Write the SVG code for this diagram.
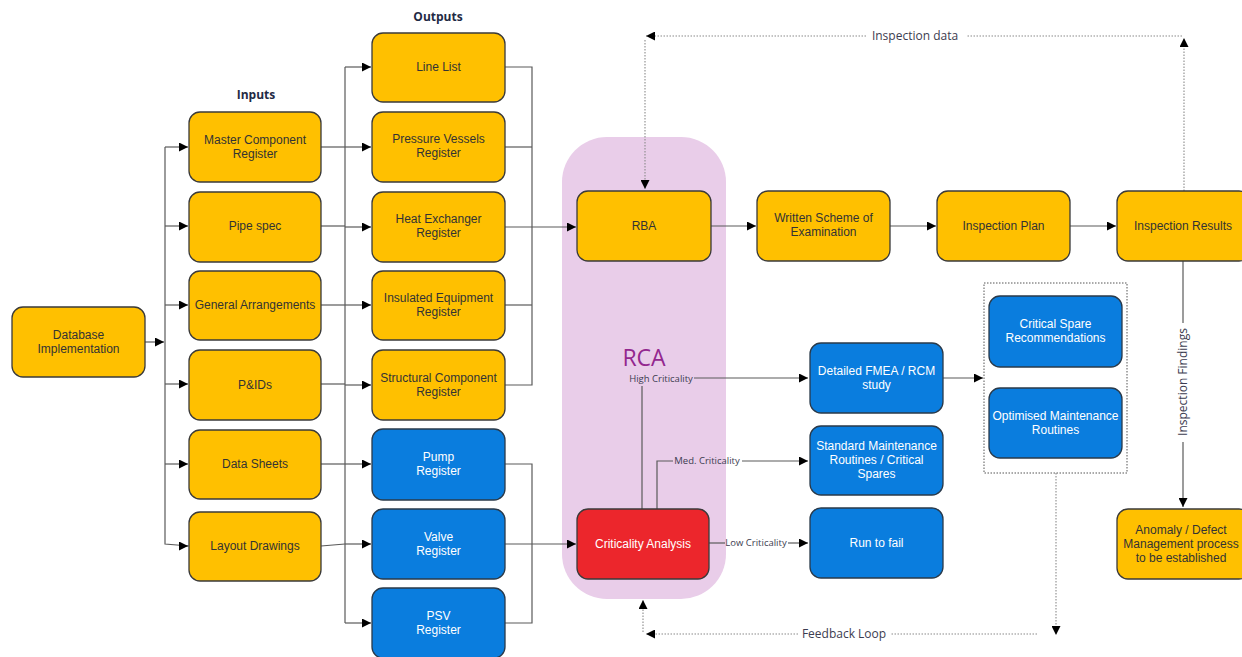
<svg xmlns="http://www.w3.org/2000/svg" width="1242" height="657" viewBox="0 0 1242 657">
<style>
.y{fill:#FFC000;stroke:#3a3a3a;stroke-width:1.3}
.b{fill:#0a7dde;stroke:#2a3a4a;stroke-width:1.3}
.r{fill:#ec262c;stroke:#3a3a3a;stroke-width:1.3}
.t{font-family:"Liberation Sans",Arial,sans-serif;font-size:12px;text-anchor:middle;fill:#333}
.tw{font-family:"Liberation Sans",Arial,sans-serif;font-size:12px;text-anchor:middle;fill:#ffffff}
.h{font-family:"Open Sans",sans-serif;font-size:12px;font-weight:bold;text-anchor:middle;fill:#1f2a44}
.lbl{font-family:"Open Sans",sans-serif;font-size:12px;text-anchor:middle;fill:#3c3c50}
.sl{font-family:"Open Sans",sans-serif;font-size:9.5px;text-anchor:middle;fill:#3c3c50}
.c{fill:none;stroke:#5a5a5a;stroke-width:1.2}
.d{fill:none;stroke:#8a8a8a;stroke-width:1.1;stroke-dasharray:1.5 1.5}
</style>
<defs>
<marker id="a" viewBox="0 0 10 10" refX="10" refY="5" markerUnits="userSpaceOnUse" markerWidth="9" markerHeight="9" orient="auto">
<path d="M0,0 L10,5 L0,10 z" fill="#000"/>
</marker>
</defs>

<rect id="rca-zone" x="562" y="137" width="164" height="462" rx="45" fill="#e9cde9"/>
<text x="644" y="366" font-family="Open Sans,sans-serif" font-size="23" fill="#93278f" text-anchor="middle">RCA</text>

<text class="h" x="256" y="99">Inputs</text>
<text class="h" x="438" y="21">Outputs</text>

<g id="connectors">
  <path class="c" d="M145,342 H164" marker-end="url(#a)"/>
  <path class="c" d="M165,147 V544 L189,546"/>
  <path class="c" d="M165,147 H188" marker-end="url(#a)"/>
  <path class="c" d="M165,226 H188" marker-end="url(#a)"/>
  <path class="c" d="M165,305 H188" marker-end="url(#a)"/>
  <path class="c" d="M165,384 H188" marker-end="url(#a)"/>
  <path class="c" d="M165,464 H188" marker-end="url(#a)"/>
  <path class="c" d="M182,546 H188" marker-end="url(#a)"/>
  <path class="c" d="M321,147 H345"/>
  <path class="c" d="M321,226 H345"/>
  <path class="c" d="M321,305 H345"/>
  <path class="c" d="M321,384 H345"/>
  <path class="c" d="M321,464 H345"/>
  <path class="c" d="M321,546 L345,544"/>
  <path class="c" d="M345,67 V623"/>
  <path class="c" d="M345,67 H371" marker-end="url(#a)"/>
  <path class="c" d="M345,147 H371" marker-end="url(#a)"/>
  <path class="c" d="M345,227 H371" marker-end="url(#a)"/>
  <path class="c" d="M345,305 H371" marker-end="url(#a)"/>
  <path class="c" d="M345,385 H371" marker-end="url(#a)"/>
  <path class="c" d="M345,464 H371" marker-end="url(#a)"/>
  <path class="c" d="M345,544 H371" marker-end="url(#a)"/>
  <path class="c" d="M345,623 H371" marker-end="url(#a)"/>
  <path class="c" d="M505,67 H532 V385 H505"/>
  <path class="c" d="M505,147 H532"/>
  <path class="c" d="M505,305 H532"/>
  <path class="c" d="M505,227 H576" marker-end="url(#a)"/>
  <path class="c" d="M505,464 H532 V623 H505"/>
  <path class="c" d="M505,544 H576" marker-end="url(#a)"/>
  <path class="c" d="M711,226 H756" marker-end="url(#a)"/>
  <path class="c" d="M890,226 H936" marker-end="url(#a)"/>
  <path class="c" d="M1070,226 H1116" marker-end="url(#a)"/>
  <path class="c" d="M642,509 V386"/>
  <text class="sl" x="661" y="382">High Criticality</text>
  <path class="c" d="M694,378 H808" marker-end="url(#a)"/>
  <path class="c" d="M657,509 V461 H673"/>
  <text class="sl" x="707" y="464">Med. Criticality</text>
  <path class="c" d="M742,461 H808" marker-end="url(#a)"/>
  <path class="c" d="M709,543 H725"/>
  <text class="sl" x="756" y="546">Low Criticality</text>
  <path class="c" d="M788,543 H808" marker-end="url(#a)"/>
  <path class="c" d="M943,378 H983" marker-end="url(#a)"/>
  <path class="c" d="M1183,261 V323"/>
  <path class="c" d="M1183,442 V507" marker-end="url(#a)"/>
  <text class="lbl" transform="translate(1187,382) rotate(-90)" fill="#555">Inspection Findings</text>
  <path class="d" d="M645,40 V189" marker-end="url(#a)"/>
  <path class="d" d="M1182,36 H966"/>
  <path class="d" d="M866,36 H646" marker-end="url(#a)"/>
  <text class="lbl" x="915" y="40">Inspection data</text>
  <path class="d" d="M1184,191 V38" marker-end="url(#a)"/>
  <path class="d" d="M1056,473 V635" marker-end="url(#a)"/>
  <path class="d" d="M1037,634 H890"/>
  <path class="d" d="M798,634 H646" marker-end="url(#a)"/>
  <text class="lbl" x="844" y="638">Feedback Loop</text>
  <path class="d" d="M643,632 V600" marker-end="url(#a)"/>
</g>

<g id="database"><rect class="y" x="12" y="307" width="133" height="70" rx="11"/><text class="t" x="78.5" y="339">Database</text><text class="t" x="78.5" y="353">Implementation</text></g>

<g id="master-component"><rect class="y" x="189" y="112" width="132" height="70" rx="11"/><text class="t" x="255" y="144">Master Component</text><text class="t" x="255" y="158">Register</text></g>
<g id="pipe-spec"><rect class="y" x="189" y="192" width="132" height="70" rx="11"/><text class="t" x="255" y="230">Pipe spec</text></g>
<g id="general-arr"><rect class="y" x="189" y="271" width="132" height="69" rx="11"/><text class="t" x="255" y="309">General Arrangements</text></g>
<g id="pids"><rect class="y" x="189" y="350" width="132" height="70" rx="11"/><text class="t" x="255" y="389">P&amp;IDs</text></g>
<g id="data-sheets"><rect class="y" x="189" y="430" width="132" height="69" rx="11"/><text class="t" x="255" y="468">Data Sheets</text></g>
<g id="layout"><rect class="y" x="189" y="512" width="132" height="69" rx="11"/><text class="t" x="255" y="550">Layout Drawings</text></g>

<g id="line-list"><rect class="y" x="372" y="33" width="133" height="69" rx="11"/><text class="t" x="438.5" y="71">Line List</text></g>
<g id="pressure-vessels"><rect class="y" x="372" y="112" width="133" height="70" rx="11"/><text class="t" x="438.5" y="143">Pressure Vessels</text><text class="t" x="438.5" y="157">Register</text></g>
<g id="heat-exchanger"><rect class="y" x="372" y="192" width="133" height="70" rx="11"/><text class="t" x="438.5" y="223">Heat Exchanger</text><text class="t" x="438.5" y="237">Register</text></g>
<g id="insulated"><rect class="y" x="372" y="271" width="133" height="69" rx="11"/><text class="t" x="438.5" y="302">Insulated Equipment</text><text class="t" x="438.5" y="316">Register</text></g>
<g id="structural"><rect class="y" x="372" y="350" width="133" height="70" rx="11"/><text class="t" x="438.5" y="382">Structural Component</text><text class="t" x="438.5" y="396">Register</text></g>
<g id="pump"><rect class="b" x="372" y="429" width="133" height="71" rx="11"/><text class="tw" x="438.5" y="461">Pump</text><text class="tw" x="438.5" y="475">Register</text></g>
<g id="valve"><rect class="b" x="372" y="509" width="133" height="70" rx="11"/><text class="tw" x="438.5" y="541">Valve</text><text class="tw" x="438.5" y="555">Register</text></g>
<g id="psv"><rect class="b" x="372" y="588" width="133" height="70" rx="11"/><text class="tw" x="438.5" y="620">PSV</text><text class="tw" x="438.5" y="634">Register</text></g>

<g id="rba"><rect class="y" x="577" y="191" width="134" height="70" rx="11"/><text class="t" x="644" y="230">RBA</text></g>
<g id="criticality"><rect class="r" x="577" y="509" width="132" height="70" rx="11"/><text class="tw" x="643" y="548">Criticality Analysis</text></g>

<g id="written-scheme"><rect class="y" x="757" y="191" width="133" height="70" rx="11"/><text class="t" x="823.5" y="222">Written Scheme of</text><text class="t" x="823.5" y="236">Examination</text></g>
<g id="inspection-plan"><rect class="y" x="937" y="191" width="133" height="70" rx="11"/><text class="t" x="1003.5" y="230">Inspection Plan</text></g>
<g id="inspection-results"><rect class="y" x="1117" y="191" width="133" height="70" rx="11"/><text class="t" x="1183" y="230">Inspection Results</text></g>

<g id="fmea"><rect class="b" x="810" y="343" width="133" height="70" rx="11"/><text class="tw" x="876.5" y="375">Detailed FMEA / RCM</text><text class="tw" x="876.5" y="389">study</text></g>
<g id="standard-maint"><rect class="b" x="810" y="426" width="133" height="69" rx="11"/><text class="tw" x="876.5" y="450">Standard Maintenance</text><text class="tw" x="876.5" y="464">Routines / Critical</text><text class="tw" x="876.5" y="478">Spares</text></g>
<g id="run-to-fail"><rect class="b" x="810" y="508" width="133" height="70" rx="11"/><text class="tw" x="876.5" y="547">Run to fail</text></g>

<g id="outcome-group">
<rect x="984" y="283" width="143" height="190" fill="none" stroke="#555" stroke-width="1" stroke-dasharray="1.5 1.5"/>
<g id="critical-spare"><rect class="b" x="989" y="296" width="133" height="71" rx="11"/><text class="tw" x="1055.5" y="328">Critical Spare</text><text class="tw" x="1055.5" y="342">Recommendations</text></g>
<g id="optimised"><rect class="b" x="989" y="388" width="133" height="70" rx="11"/><text class="tw" x="1055.5" y="420">Optimised Maintenance</text><text class="tw" x="1055.5" y="434">Routines</text></g>
</g>

<g id="anomaly"><rect class="y" x="1117" y="509" width="133" height="70" rx="11"/><text class="t" x="1181" y="534">Anomaly / Defect</text><text class="t" x="1181" y="548">Management process</text><text class="t" x="1181" y="562">to be established</text></g>
</svg>
